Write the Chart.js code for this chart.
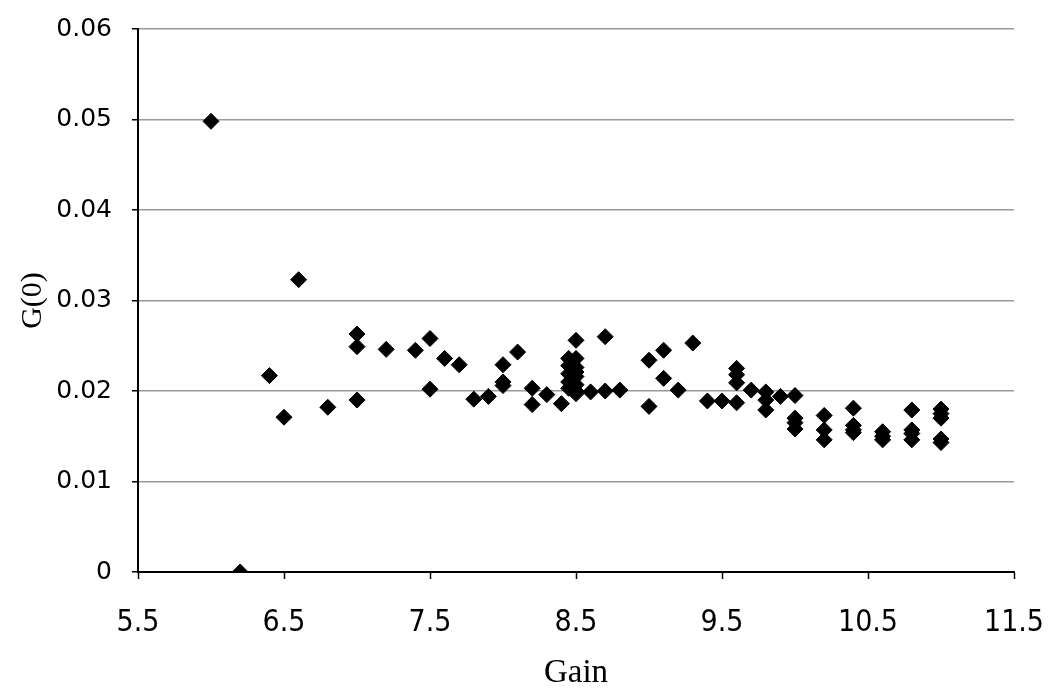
<!DOCTYPE html>
<html>
<head>
<meta charset="utf-8">
<script src="https://cdn.jsdelivr.net/npm/chart.js@4"></script>
<style>
  html, body { margin: 0; padding: 0; background: #ffffff; }
  #wrap { width: 1050px; height: 695px; position: relative; }
</style>
</head>
<body>
<div id="wrap"><canvas id="c" width="1050" height="695"></canvas></div>
<script>
const gainValues = [
  6.0, 6.2, 6.4, 6.5, 6.6, 6.8,
  7.0, 7.0, 7.0, 7.2, 7.4, 7.5, 7.5, 7.6, 7.7, 7.8, 7.9,
  8.0, 8.0, 8.0, 8.1, 8.2, 8.2, 8.3, 8.4,
  8.45, 8.5, 8.45, 8.5, 8.5, 8.45, 8.5, 8.45, 8.5, 8.45, 8.5, 8.5,
  8.5, 8.6, 8.7, 8.7, 8.8,
  9.0, 9.0, 9.1, 9.1, 9.2, 9.3, 9.4, 9.5,
  9.6, 9.6, 9.6, 9.6, 9.7, 9.8, 9.8, 9.8, 9.9,
  10.0, 10.0, 10.0, 10.0, 10.2, 10.2, 10.2,
  10.4, 10.4, 10.4, 10.4, 10.6, 10.6, 10.6,
  10.8, 10.8, 10.8, 10.8, 11.0, 11.0, 11.0, 11.0, 11.0
];
const g0Values = [
  0.0498, 0.0, 0.0217, 0.0171, 0.0323, 0.0182,
  0.0263, 0.0249, 0.0190, 0.0246, 0.0245, 0.0258, 0.0202, 0.0236, 0.0229, 0.0191, 0.0194,
  0.0229, 0.0210, 0.0206, 0.0243, 0.0203, 0.0185, 0.0196, 0.0186,
  0.0236, 0.0236, 0.0228, 0.0226, 0.0221, 0.0219, 0.0216, 0.0210, 0.0207, 0.0203, 0.0200, 0.0197,
  0.0256, 0.0199, 0.0260, 0.0200, 0.0201,
  0.0234, 0.0183, 0.0245, 0.0214, 0.0201, 0.0253, 0.0189, 0.0189,
  0.0225, 0.0218, 0.0209, 0.0187, 0.0201, 0.0199, 0.0190, 0.0179, 0.0194,
  0.0195, 0.0170, 0.0165, 0.0158, 0.0173, 0.0157, 0.0146,
  0.0181, 0.0162, 0.0157, 0.0154, 0.0155, 0.0150, 0.0146,
  0.0179, 0.0157, 0.0153, 0.0146, 0.0180, 0.0175, 0.0170, 0.0147, 0.0143
];
const xTickValues = [5.5, 6.5, 7.5, 8.5, 9.5, 10.5, 11.5];
const yTickValues = [0, 0.01, 0.02, 0.03, 0.04, 0.05, 0.06];
const xTitle = 'Gain';
const yTitle = 'G(0)';

const points = gainValues.map((g, i) => ({ x: g, y: g0Values[i] }));

new Chart(document.getElementById('c'), {
  type: 'scatter',
  data: {
    datasets: [{
      data: points,
      pointStyle: 'rectRot',
      pointRadius: 8,
      pointHoverRadius: 8,
      backgroundColor: '#000000',
      borderColor: '#000000',
      borderWidth: 1
    }]
  },
  options: {
    responsive: false,
    animation: false,
    devicePixelRatio: 1,
    layout: { padding: { left: 0, right: 36, top: 29, bottom: 0 } },
    plugins: { legend: { display: false }, tooltip: { enabled: false } },
    scales: {
      x: {
        type: 'linear',
        min: 5.5,
        max: 11.5,
        afterBuildTicks: (s) => { s.ticks = xTickValues.map(v => ({ value: v })); },
        afterFit: (s) => { s.height = 123; s.paddingLeft = 0; s.paddingRight = 0; },
        grid: { drawOnChartArea: false, drawTicks: true, tickLength: 7, tickColor: '#000000', tickWidth: 1.5 },
        border: { color: '#000000', width: 2 },
        ticks: {
          color: '#000000',
          padding: 26,
          maxRotation: 0,
          font: { family: "'Liberation Sans Narrow', 'DejaVu Sans Condensed', sans-serif", size: 30 },
          callback: (v) => String(v)
        },
        title: {
          display: true,
          text: xTitle,
          color: '#000000',
          font: { family: "'Liberation Serif', serif", size: 33 },
          padding: { top: 0, bottom: 2 }
        }
      },
      y: {
        type: 'linear',
        min: 0,
        max: 0.06,
        afterBuildTicks: (s) => { s.ticks = yTickValues.map(v => ({ value: v })); },
        afterFit: (s) => { s.width = 138; s.paddingTop = 0; s.paddingBottom = 0; },
        grid: { color: '#999999', lineWidth: 1.5, drawTicks: true, tickLength: 6, tickColor: '#000000', tickWidth: 1.5 },
        border: { color: '#000000', width: 2 },
        ticks: {
          color: '#000000',
          padding: 20,
          font: { family: "'DejaVu Sans', sans-serif", size: 25 },
          callback: (v) => String(Math.round(v * 100) / 100)
        },
        title: {
          display: true,
          text: yTitle,
          color: '#000000',
          font: { family: "'Liberation Serif', serif", size: 30 },
          padding: { top: 15, bottom: 0 }
        }
      }
    }
  }
});
</script>
</body>
</html>
